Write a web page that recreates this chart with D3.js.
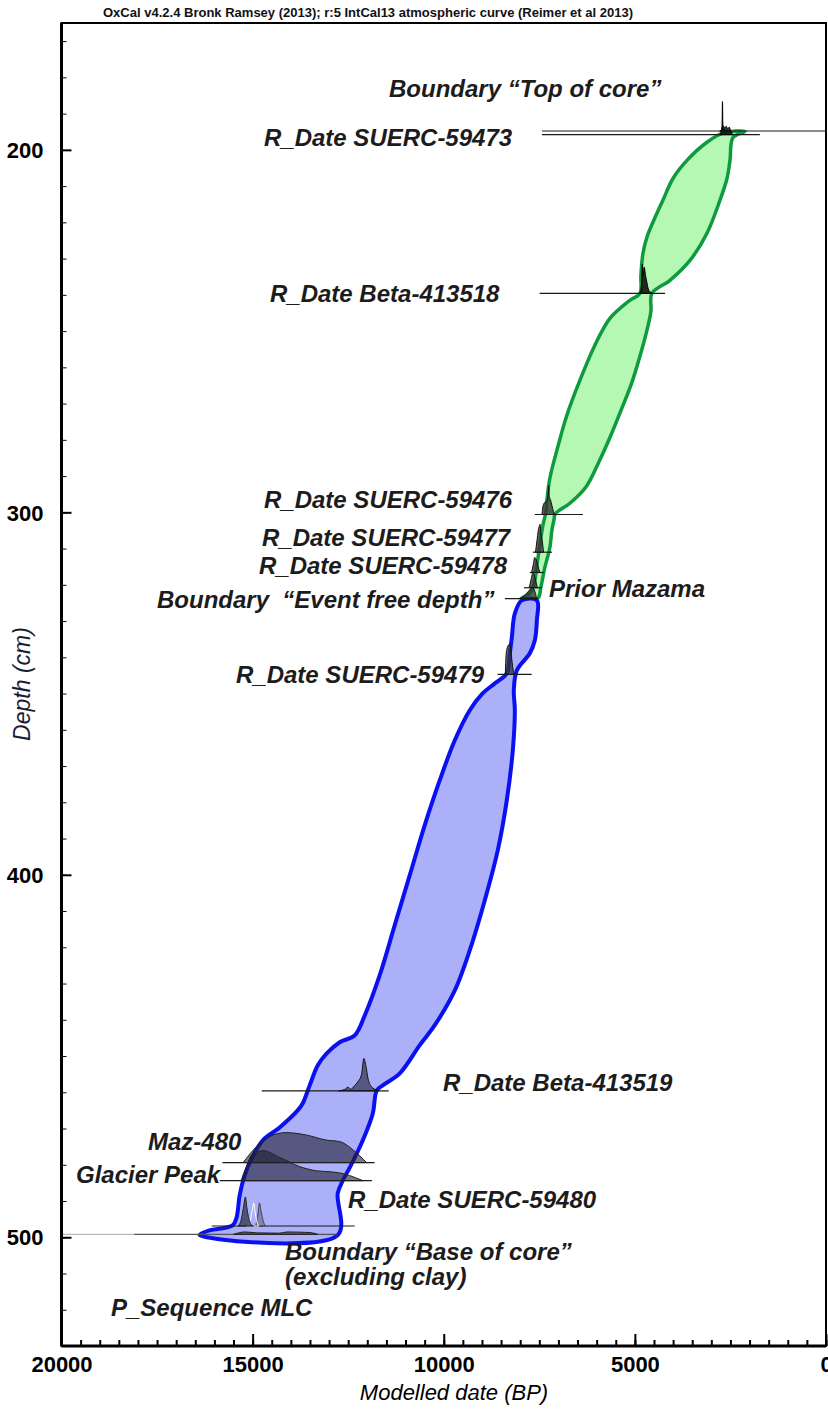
<!DOCTYPE html>
<html>
<head>
<meta charset="utf-8">
<script src="https://cdn.jsdelivr.net/npm/d3@7"></script>
<style>
  body { margin: 0; background: #fff; }
  svg { display: block; }
</style>
</head>
<body>
<svg id="chart" width="828" height="1414"></svg>
<script>
// ---------- axes ----------
const depthDomain = [165, 530];
const dateDomain = [20000, 0];
const depthMinorTicks = d3.range(170, 531, 10);
const depthMajorTicks = [200, 300, 400, 500];
const dateMinorTicks = d3.range(0, 20001, 500);
const dateMajorTicks = [20000, 15000, 10000, 5000, 0];

// ---------- 95% age-depth envelopes: [date BP, depth cm], around the outline ----------
const envelopeUpper = [
  [2695,195.4],[3114,197.9],[3637,202.9],[4004,207.9],[4266,213.9],[4423,217.5],[4685,224.1],
  [4789,228.6],[4842,234.6],[4868,239.6],[5130,241.5],[5653,246.5],[6046,253.9],[6439,263.6],
  [6779,273.2],[7041,282.9],[7224,290.6],[7303,296.7],[7329,300.0],[7407,303.6],[7486,309.1],
  [7564,314.6],[7643,320.1],[7748,322.3],[7957,323.7],
  [7538,323.7],[7460,320.7],[7355,315.2],[7224,309.7],[7172,305.0],[7119,302.2],[7080,300.4],
  [6700,297.5],[6280,293.0],[5960,286.5],[5650,279.3],[5360,271.8],[5080,264.2],[4870,257.0],
  [4690,250.0],[4580,244.5],[4554,239.6],[4083,236.0],[3559,230.5],[3114,223.0],[2774,213.9],
  [2590,207.9],[2512,202.9],[2433,196.6],[2119,194.9]
];
const envelopeLower = [
  [7957,324.3],[8140,327.9],[8219,334.5],[8271,338.9],[8350,344.4],[8664,347.2],[8978,349.9],
  [9319,354.6],[9711,362.9],[10104,373.9],[10497,386.3],[10889,400.1],[11282,413.9],[11675,427.7],
  [12067,438.8],[12329,444.3],[12722,446.2],[13062,449.3],[13298,452.6],[13507,458.1],[13691,463.1],
  [13822,465.0],[14293,469.7],[14738,473.3],[15026,478.3],[15209,482.9],[15340,488.5],[15419,494.5],
  [15523,496.7],[16125,498.1],[16387,499.4],
  [12774,499.4],[12774,487.9],[12643,484.4],[12460,480.8],[12120,473.3],[11858,465.9],[11753,459.5],
  [11596,458.1],[11151,454.8],[10628,447.0],[10235,441.5],[9711,431.9],[9319,420.8],[8926,407.0],
  [8586,393.2],[8350,379.4],[8193,365.6],[8140,354.6],[8167,349.1],[8088,343.6],[7748,338.9],
  [7617,335.3],[7564,329.8],[7564,324.3]
];

// ---------- model elements: depth (cm) and the date range of each reference line (BP) ----------
const elementNames = [
  "Boundary top", "SUERC-59473", "Beta-413518", "SUERC-59476", "SUERC-59477", "SUERC-59478",
  "Prior Mazama", "Event free depth", "SUERC-59479", "Beta-413519", "Maz-480", "Glacier Peak",
  "SUERC-59480", "Boundary base"
];
const elementDepth = [194.8, 195.8, 239.6, 300.6, 311.0, 316.6, 320.8, 323.8, 344.7, 459.6, 479.4, 484.4, 496.9, 499.2];
const lineFrom     = [7430, 7430, 7490, 7620, 7670, 7750, 7900, 8400, 8590, 14760, 15790, 15860, 16070, 18100];
const lineTo       = [0, 1730, 4210, 6360, 7170, 7380, 7430, 7540, 7700, 11440, 11810, 11880, 12330, 12800];

// ---------- probability distributions: [date BP, relative probability] ----------
const probTopOfCore = [[2780,0],[2722,0.04],[2708,0.98],[2696,0.06],[2640,0.03],[2520,0]];
const prob59473 = [[2760,0],[2722,0.22],[2690,0.3],[2652,0.22],[2612,0.28],[2572,0.2],[2532,0.25],[2492,0.12],[2440,0]];
const prob413518 = [[4870,0],[4825,0.3],[4805,0.98],[4788,0.55],[4755,0.88],[4722,0.6],[4690,0.4],[4650,0.15],[4600,0.05],[4550,0]];
const prob59476 = [[7430,0],[7400,0.3],[7360,0.4],[7310,0.45],[7275,0.6],[7255,0.97],[7240,0.6],[7210,0.5],[7170,0.3],[7130,0.1],[7100,0]];
const prob59477 = [[7600,0],[7560,0.4],[7530,0.7],[7505,0.85],[7480,0.93],[7455,0.6],[7420,0.35],[7390,0]];
const prob59478 = [[7700,0],[7660,0.25],[7620,0.5],[7590,0.45],[7550,0.3],[7510,0.1],[7480,0]];
const probMazama = [[7760,0],[7710,0.3],[7670,0.5],[7630,0.42],[7590,0.2],[7550,0]];
const probEventFree = [[8050,0],[7900,0.08],[7780,0.25],[7680,0.37],[7620,0.25],[7570,0]];
const prob59479 = [[8390,0],[8362,0.75],[8320,0.95],[8280,1.0],[8250,0.9],[8220,0.5],[8180,0.1],[8150,0]];
const prob413519 = [[12750,0],[12600,0.04],[12500,0.12],[12430,0.05],[12350,0.15],[12250,0.3],[12150,0.55],[12090,1.08],[12040,0.85],[11980,0.4],[11900,0.15],[11800,0.05],[11700,0]];
const probMaz480 = [[15250,0],[14900,0.53],[14555,0.87],[14120,1.0],[13600,0.92],[13070,0.75],[12720,0.7],[12370,0.42],[12020,0]];
const probGlacier = [[15300,0],[15150,0.5],[15030,0.85],[14730,1.0],[14300,0.78],[13770,0.47],[13330,0.33],[12900,0.29],[12550,0.21],[12370,0.13],[12110,0]];
const prob59480a = [[15380,0],[15300,0.2],[15230,0.7],[15190,0.97],[15150,0.6],[15100,0.25],[15040,0.05],[14980,0]];
const prob59480b = [[15150,0],[15060,0.2],[15000,0.6],[14970,0.77],[14940,0.5],[14890,0.15],[14840,0]];
const prob59480c = [[14920,0],[14860,0.4],[14820,0.77],[14780,0.5],[14720,0.15],[14660,0]];
const probBase = [[15500,0],[15200,0.08],[14900,0.05],[14300,0.04],[14100,0.08],[13500,0.06],[13300,0]];

// ---------- labels ----------
const labelText = [
  "Boundary \u201cTop of core\u201d", "R_Date SUERC-59473", "R_Date Beta-413518", "R_Date SUERC-59476",
  "R_Date SUERC-59477", "R_Date SUERC-59478", "Boundary  \u201cEvent free depth\u201d", "Prior Mazama",
  "R_Date SUERC-59479", "R_Date Beta-413519", "Maz-480", "Glacier Peak", "R_Date SUERC-59480",
  "Boundary \u201cBase of core\u201d", "(excluding clay)", "P_Sequence MLC"
];
const headerText = "OxCal v4.2.4 Bronk Ramsey (2013); r:5 IntCal13 atmospheric curve (Reimer et al 2013)";

// ================= drawing =================
const svg = d3.select("#chart");
const plot = { left: 61.5, right: 826, top: 23, bottom: 1346 };

const x = d3.scaleLinear().domain(dateDomain).range([plot.left, plot.right]);
const y = d3.scaleLinear().domain(depthDomain).range([plot.top, plot.bottom]);

const FONT = "'Liberation Sans', Arial, Helvetica, sans-serif";
const PEAK = 30; // pixel height of a unit probability

// envelopes
const outline = d3.line()
  .x(d => x(d[0])).y(d => y(d[1]))
  .curve(d3.curveCatmullRomClosed.alpha(0.5));

svg.append("path").datum(envelopeUpper)
  .attr("d", outline)
  .attr("fill", "#b4f8b4")
  .attr("stroke", "#0e9a3e")
  .attr("stroke-width", 3.5)
  .attr("stroke-linejoin", "round");

svg.append("path").datum(envelopeLower)
  .attr("d", outline)
  .attr("fill", "#abb0f8")
  .attr("stroke", "#0a10f0")
  .attr("stroke-width", 4)
  .attr("stroke-linejoin", "round");

// reference lines of each element
const lineIdx = d3.range(elementNames.length);
svg.append("g").selectAll("line").data(lineIdx).join("line")
  .attr("x1", i => x(lineFrom[i]))
  .attr("x2", i => x(lineTo[i]))
  .attr("y1", i => y(elementDepth[i]))
  .attr("y2", i => y(elementDepth[i]))
  .attr("stroke", i => i === lineIdx.length - 1 ? "#555" : "#1a1a1a")
  .attr("stroke-width", 1.2);

// faint extension of the base boundary line to the axis
const baseI = elementNames.indexOf("Boundary base");
svg.append("line")
  .attr("x1", x(20000)).attr("x2", x(lineFrom[baseI]))
  .attr("y1", y(elementDepth[baseI])).attr("y2", y(elementDepth[baseI]))
  .attr("stroke", "#aaa").attr("stroke-width", 1);

// probability distributions
function density(values, depth, fill, stroke, opacity) {
  const base = y(depth);
  const area = d3.area()
    .x(d => x(d[0]))
    .y0(base)
    .y1(d => base - d[1] * PEAK)
    .curve(d3.curveMonotoneX);
  const sorted = values.slice().sort((a, b) => b[0] - a[0]);
  svg.append("path").datum(sorted)
    .attr("d", area)
    .attr("fill", fill)
    .attr("fill-opacity", opacity)
    .attr("stroke", stroke)
    .attr("stroke-width", 1);
}
const depthOf = name => elementDepth[elementNames.indexOf(name)];
const DARK = "#1e1e32";

density(probTopOfCore, depthOf("Boundary top"), "#111", "#000", 0.9);
density(prob59473, depthOf("SUERC-59473"), "#111", "#000", 0.85);
density(prob413518, depthOf("Beta-413518"), "#111", "#000", 0.9);
density(prob59476, depthOf("SUERC-59476"), "#333", "#111", 0.8);
density(prob59477, depthOf("SUERC-59477"), "#333", "#111", 0.8);
density(prob59478, depthOf("SUERC-59478"), "#333", "#111", 0.8);
density(probMazama, depthOf("Prior Mazama"), "#333", "#111", 0.8);
density(probEventFree, depthOf("Event free depth"), "#333", "#111", 0.75);
density(prob59479, depthOf("SUERC-59479"), "#333", "#111", 0.75);
density(prob413519, depthOf("Beta-413519"), DARK, "#111", 0.6);
density(probMaz480, depthOf("Maz-480"), DARK, "#222", 0.6);
density(probGlacier, depthOf("Glacier Peak"), DARK, "#222", 0.6);
density(probBase, depthOf("Boundary base"), DARK, "#222", 0.6);
density(prob59480c, depthOf("SUERC-59480"), "#555570", "#444", 0.5);
density(prob59480b, depthOf("SUERC-59480"), "none", "#fff", 1);
density(prob59480a, depthOf("SUERC-59480"), DARK, "#222", 0.65);

// frame
svg.append("rect")
  .attr("x", plot.left).attr("y", plot.top)
  .attr("width", plot.right - plot.left).attr("height", plot.bottom - plot.top)
  .attr("fill", "none").attr("stroke", "#000").attr("stroke-width", 2);

// depth axis (ticks point inward)
const yAxis = svg.append("g").attr("transform", `translate(${plot.left},0)`);
yAxis.call(d3.axisRight(y).tickValues(depthMinorTicks).tickSize(5).tickFormat(""));
yAxis.select(".domain").remove();
yAxis.selectAll("line").attr("stroke", "#000").attr("stroke-width", 1);
const yMaj = svg.append("g").attr("transform", `translate(${plot.left},0)`);
yMaj.call(d3.axisLeft(y).tickValues(depthMajorTicks).tickSize(-10).tickPadding(18));
yMaj.select(".domain").attr("stroke", "#000").attr("stroke-width", 3).attr("d", `M0,${plot.top}V${plot.bottom}`);
yMaj.selectAll("line").attr("stroke", "#000").attr("stroke-width", 2);
yMaj.selectAll("text")
  .attr("font-family", FONT).attr("font-size", 22).attr("font-weight", "bold")
  .attr("fill", "#000").attr("dy", "0.35em");

// date axis
const xAxis = svg.append("g").attr("transform", `translate(0,${plot.bottom})`);
xAxis.call(d3.axisTop(x).tickValues(dateMinorTicks).tickSize(6).tickFormat(""));
xAxis.select(".domain").remove();
xAxis.selectAll("line").attr("stroke", "#000").attr("stroke-width", 2);
const xMaj = svg.append("g").attr("transform", `translate(0,${plot.bottom})`);
xMaj.call(d3.axisBottom(x).tickValues(dateMajorTicks).tickSize(-12).tickPadding(6).tickFormat(d3.format("d")));
xMaj.select(".domain").attr("stroke", "#000").attr("stroke-width", 3).attr("d", `M${plot.left},0H${plot.right}`);
xMaj.selectAll("line").attr("stroke", "#000").attr("stroke-width", 2);
xMaj.selectAll("text")
  .attr("font-family", FONT).attr("font-size", 22).attr("font-weight", "bold")
  .attr("fill", "#000").attr("dy", "0.9em");

// axis titles
svg.append("text")
  .attr("x", 454).attr("y", 1400)
  .attr("text-anchor", "middle")
  .attr("font-family", FONT).attr("font-size", 22).attr("font-style", "italic")
  .attr("fill", "#000")
  .text("Modelled date (BP)");
svg.append("text")
  .attr("transform", "translate(30,684) rotate(-90)")
  .attr("text-anchor", "middle")
  .attr("font-family", FONT).attr("font-size", 23).attr("font-style", "italic")
  .attr("fill", "#1a1d33")
  .text("Depth (cm)");

// header
svg.append("text")
  .attr("x", 103).attr("y", 17)
  .attr("font-family", FONT).attr("font-size", 13).attr("font-weight", "bold")
  .attr("textLength", 530).attr("lengthAdjust", "spacingAndGlyphs")
  .attr("fill", "#111")
  .text(headerText);

// element labels: [left x, baseline y] in pixels
const labelPos = [
  [389, 97], [264, 146], [270, 302], [264, 508], [262, 546], [259, 574], [157, 608], [549, 597],
  [236, 683], [443, 1091], [148, 1150], [76, 1183], [348, 1208], [285, 1260], [285, 1285], [111, 1316]
];
svg.append("g").selectAll("text").data(labelText).join("text")
  .attr("x", (d, i) => labelPos[i][0])
  .attr("y", (d, i) => labelPos[i][1])
  .attr("font-family", FONT).attr("font-size", 24)
  .attr("font-weight", "bold").attr("font-style", "italic")
  .attr("fill", "#1c1c1c")
  .attr("xml:space", "preserve")
  .style("white-space", "pre")
  .text(d => d);
</script>
</body>
</html>
